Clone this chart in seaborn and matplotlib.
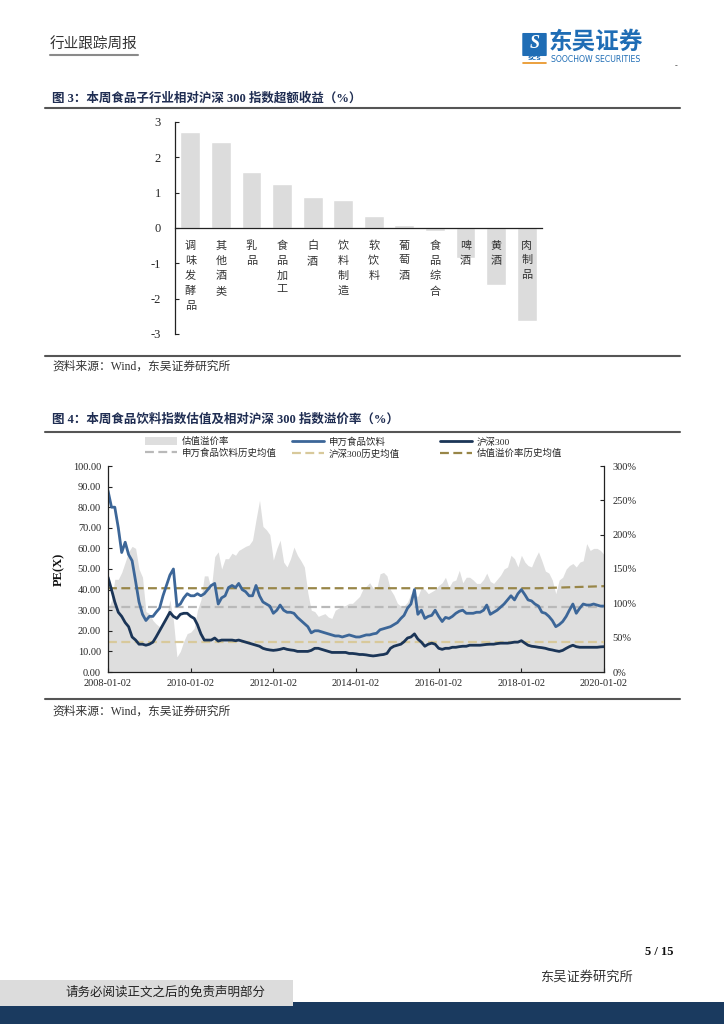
import numpy as np
import pandas as pd
import matplotlib
matplotlib.use('Agg')
import matplotlib.pyplot as plt
import matplotlib.dates as mdates
from matplotlib.lines import Line2D
from matplotlib.patches import Rectangle, FancyBboxPatch
import seaborn as sns

# ---- 图3: 本周食品子行业相对沪深300指数超额收益 (%)
sub_industries = ['调味发酵品', '其他酒类', '乳品', '食品加工', '白酒', '饮料制造',
                  '软饮料', '葡萄酒', '食品综合', '啤酒', '黄酒', '肉制品']
excess_return = [2.73, 2.44, 1.58, 1.24, 0.88, 0.79, 0.35, 0.08, -0.09, -0.84, -1.60, -2.63]
bar_yticks = [-3, -2, -1, 0, 1, 2, 3]

# ---- 图4: 估值及溢价率, monthly 2008-01-02 .. 2020-01-02
month_dates = pd.date_range('2008-01-01', periods=145, freq='MS') + pd.Timedelta(days=1)
food_pe = [
    88, 80, 80, 70, 58, 63, 57, 54, 44, 34, 28, 25,               # 2008
    27, 27, 29, 31, 37, 42, 47, 50, 32, 33, 36, 38,               # 2009
    37, 37, 38, 37, 38, 40, 42, 43, 33, 36, 37, 41,               # 2010
    42, 41, 43, 40, 39, 37, 37, 42, 37, 34, 33, 32,               # 2011
    28.5, 30, 32.5, 30, 29, 29, 28.5, 26.5, 25, 23.6, 22, 19,     # 2012
    20, 20, 19.5, 19, 18.5, 18, 17.5, 17.5, 17, 17.5, 18, 17.5,   # 2013
    17, 17, 17.5, 18, 18, 18.5, 18.8, 20.5, 21, 21.5, 22, 23,     # 2014
    24, 26, 27.5, 31, 33, 40, 28, 30, 26, 27, 27.5, 30,           # 2015
    27, 24.5, 26.5, 26, 27, 28.5, 29.5, 30, 28.5, 28.5, 28.5, 29, # 2016
    29, 30, 32.5, 28, 29, 30, 31.5, 33, 35, 37, 35, 38,           # 2017
    40, 37.5, 35, 34.5, 33, 32, 29, 28.5, 27, 25, 22, 23,         # 2018
    24.5, 27, 30, 33, 28.5, 31, 33, 32.5, 32.5, 33, 32.5, 32,     # 2019
    32,                                                           # 2020
]
hs300_pe = [
    46, 40, 34, 29, 27, 24, 22, 17, 15.5, 13.5, 13.5, 13,
    13.5, 14.5, 17, 20, 23, 26, 29, 27, 26, 28, 28.5, 28.5,
    27, 26, 23, 18.5, 15.5, 15.5, 15.5, 16.5, 15, 15.5, 15.5, 15.5,
    15.5, 15.2, 15.5, 15, 14.5, 14, 13.5, 13, 12.5, 11.5, 11, 10.7,
    10.5, 10.7, 11, 11.5, 11, 10.7, 10.5, 10, 10, 10, 10, 10.5,
    11.5, 11.5, 11, 10.5, 10, 9.5, 9.5, 9.5, 9.5, 9.5, 9, 9,
    8.8, 8.5, 8.5, 8.3, 8, 7.8, 8, 8.3, 8.5, 9, 11.5, 12.5,
    13, 13.5, 14.7, 16.5, 17, 18.5, 16, 14.5, 12.5, 13.5, 14, 13.5,
    11.5, 11, 11.5, 11.5, 12, 12, 12.3, 12.5, 12.5, 13, 13, 13,
    13, 13.2, 13.4, 13.5, 13.5, 13.8, 14, 14, 14, 14.2, 14.5, 14.5,
    15.2, 14, 13, 12.5, 12.3, 12, 11.8, 11.5, 11, 10.7, 10.3, 10,
    10.5, 11.5, 12.3, 13, 12.3, 12, 12, 12, 12, 12, 12, 12.2,
    12.3,
]
premium = [
    90, 105, 135, 135, 145, 160, 175, 183, 180, 150, 138, 88,
    85, 75, 70, 66, 70, 80, 105, 75, 22, 30, 45, 56,
    58, 64, 90, 105, 140, 140, 120, 168, 175, 150, 165, 165,
    173, 170, 177, 180, 183, 185, 192, 222, 250, 212, 207, 200,
    163, 180, 192, 160, 153, 165, 182, 170, 162, 153, 115, 90,
    88, 81, 83, 85, 80, 78, 90, 93, 96, 97, 100, 100,
    105, 110, 120, 125, 130, 122, 120, 143, 145, 140, 120, 112,
    100, 96, 96, 102, 114, 112, 110, 123, 120, 114, 117, 120,
    126, 130, 138, 123, 132, 134, 148, 130, 138, 138, 134, 129,
    129, 135, 144, 132, 129, 135, 141, 150, 153, 170, 165, 153,
    170, 160, 155, 153, 165, 175, 162, 147, 144, 134, 114, 134,
    138, 150, 155, 158, 153, 160, 162, 187, 177, 180, 180, 177,
    171,
]
mean_dates = ['2008-01-02', '2018-06-02', '2020-01-02']
food_pe_mean = [31.5, 31.5, 31.5]
hs300_pe_mean = [14.4, 14.4, 14.4]
premium_mean = [122, 122, 125]
date_ticks = ['2008-01-02', '2010-01-02', '2012-01-02', '2014-01-02',
              '2016-01-02', '2018-01-02', '2020-01-02']
pe_ticks = list(range(0, 101, 10))
pct_ticks = list(range(0, 301, 50))

# colours
BAR_GREY = '#DCDCDC'
AREA_GREY = '#DEDEDE'
FOOD_BLUE = '#3C6698'
HS_NAVY = '#1B3557'
MEAN_GREY = '#B9B9B9'
MEAN_KHAKI = '#D8C99B'
MEAN_OLIVE = '#988648'
TITLE_NAVY = '#1F2D52'
TEXT = '#333333'

sns.set_theme(style='white')
plt.rcParams['font.family'] = ['Liberation Serif', 'Noto Sans CJK SC']
plt.rcParams['axes.unicode_minus'] = False

W, H = 724, 1024
fig = plt.figure(figsize=(W / 100, H / 100), dpi=100)


def fx(x):
    return x / W


def fy(y):
    return 1 - y / H


def axes_box(left, top, right, bottom):
    return [fx(left), fy(bottom), (right - left) / W, (bottom - top) / H]


def hline(y, x0=45, x1=680, color='#555555', lw=1.5):
    fig.add_artist(Line2D([fx(x0), fx(x1)], [fy(y), fy(y)], color=color, lw=lw))


# %% page header
fig.text(fx(50), fy(45), '行业跟踪周报', fontsize=10.5, color=TEXT, va='center')
hline(55, 50, 138, color='#8A8A8A', lw=1.5)
fig.add_artist(FancyBboxPatch((fx(523), fy(55)), (546 - 523) / W, 21 / H,
                              boxstyle='round,pad=0.001', fc='#1F6DB5', ec='none'))
fig.text(fx(534.5), fy(44), 'S', fontsize=13, color='white', fontweight='bold',
         fontstyle='italic', ha='center', va='center')
fig.text(fx(534.5), fy(59), 'SCS', fontsize=4.5, color='#1F6DB5', fontweight='bold',
         ha='center', va='center', family=['DejaVu Sans'])
hline(63, 523, 546, color='#E8901C', lw=1.2)
fig.text(fx(549), fy(43), '东吴证券', fontsize=17, color='#1F6DB5', fontweight='bold', va='center')
fig.text(fx(551), fy(59), 'SOOCHOW SECURITIES', fontsize=5.6, color='#1F6DB5', va='center',
         family=['DejaVu Sans'])
fig.text(fx(675), fy(66), '-', fontsize=6, color=TEXT, va='center')

# %% 图3 bar chart
fig.text(fx(52), fy(98), '图 3：本周食品子行业相对沪深 300 指数超额收益（%）',
         fontsize=9, fontweight='bold', color=TITLE_NAVY, va='center')
hline(108)

ax1 = fig.add_axes(axes_box(175, 122, 542, 334))
sns.barplot(x=sub_industries, y=excess_return, order=sub_industries, color=BAR_GREY,
            saturation=1, width=0.65, ax=ax1)
ax1.set_axisbelow(False)
ax1.set_xlim(-0.5, len(sub_industries) - 0.5)
ax1.set_ylim(-3, 3)
ax1.spines['bottom'].set_position(('data', 0))
for side in ['top', 'right']:
    ax1.spines[side].set_visible(False)
for side in ['left', 'bottom']:
    ax1.spines[side].set_color('#222222')
    ax1.spines[side].set_linewidth(0.9)
ax1.set_xticks(range(len(sub_industries)))
ax1.set_xticklabels(['\n'.join(name) for name in sub_industries], fontsize=8,
                    linespacing=1.6, va='top', color=TEXT)
ax1.set_xticks(np.arange(-0.5, len(sub_industries)), minor=True)
ax1.tick_params(axis='x', which='major', length=0, pad=9)
ax1.tick_params(axis='x', which='minor', direction='in', length=3, width=0.8, color='#222222')
ax1.set_yticks(bar_yticks)
ax1.set_yticklabels([str(v) for v in bar_yticks])
ax1.tick_params(axis='y', direction='in', length=3, width=0.8, pad=10, labelsize=9,
                left=True, color='#222222')
ax1.set_xlabel('')
ax1.set_ylabel('')

hline(356)
fig.text(fx(52), fy(367), '资料来源：Wind，东吴证券研究所', fontsize=8.5, color=TEXT, va='center')

# %% 图4 valuation chart
fig.text(fx(52), fy(420), '图 4：本周食品饮料指数估值及相对沪深 300 指数溢价率（%）',
         fontsize=9, fontweight='bold', color=TITLE_NAVY, va='center')
hline(432)

ax = fig.add_axes(axes_box(108, 466, 604, 672))
ax2 = ax.twinx()
mean_x = pd.to_datetime(mean_dates)

ax2.fill_between(month_dates, 0, premium, color=AREA_GREY, lw=0, label='估值溢价率')
sns.lineplot(x=mean_x, y=premium_mean, ax=ax2, color=MEAN_OLIVE, lw=1.6,
             linestyle=(0, (4, 2)), label='估值溢价率历史均值')

sns.lineplot(x=mean_x, y=food_pe_mean, ax=ax, color=MEAN_GREY, lw=1.6,
             linestyle=(0, (4, 2)), label='申万食品饮料历史均值')
sns.lineplot(x=mean_x, y=hs300_pe_mean, ax=ax, color=MEAN_KHAKI, lw=1.6,
             linestyle=(0, (4, 2)), label='沪深300历史均值')
sns.lineplot(x=month_dates, y=food_pe, ax=ax, color=FOOD_BLUE, lw=2.0, label='申万食品饮料')
sns.lineplot(x=month_dates, y=hs300_pe, ax=ax, color=HS_NAVY, lw=2.0, label='沪深300')

for a in (ax, ax2):
    if a.get_legend() is not None:
        a.get_legend().remove()

ax.set_zorder(ax2.get_zorder() + 1)
ax.patch.set_visible(False)

ax.set_xlim(pd.Timestamp(date_ticks[0]), pd.Timestamp(date_ticks[-1]))
ax.set_xticks(mdates.date2num(pd.to_datetime(date_ticks)))
ax.xaxis.set_major_formatter(mdates.DateFormatter('%Y-%m-%d'))
ax.set_ylim(0, 100)
ax.set_yticks(pe_ticks)
ax.set_yticklabels([f'{v:.2f}' for v in pe_ticks])
ax2.set_ylim(0, 300)
ax2.set_yticks(pct_ticks)
ax2.set_yticklabels([f'{v}%' for v in pct_ticks])

ax.tick_params(axis='both', direction='in', length=3, width=0.8, labelsize=7.5, pad=5,
               left=True, bottom=True, color='#222222')
ax2.tick_params(axis='y', direction='in', length=3, width=0.8, labelsize=7.5, pad=6,
                right=True, color='#222222')
for side in ['top', 'right']:
    ax.spines[side].set_visible(False)
for side in ['top', 'left', 'bottom']:
    ax2.spines[side].set_visible(False)
for sp in (ax.spines['left'], ax.spines['bottom'], ax2.spines['right']):
    sp.set_color('#222222')
    sp.set_linewidth(0.9)
ax.set_xlabel('')
ax.set_ylabel('PE(X)', fontsize=9, fontweight='bold', color='#111111')
ax.yaxis.set_label_coords((65 - 108) / 496, 0.5)
ax2.set_ylabel('')

# legend: three columns of two entries
handles = {}
for a in (ax, ax2):
    for h, lab in zip(*a.get_legend_handles_labels()):
        handles[lab] = h
legend_cols = [(145, ['估值溢价率', '申万食品饮料历史均值']),
               (292, ['申万食品饮料', '沪深300历史均值']),
               (440, ['沪深300', '估值溢价率历史均值'])]
for x0, labs in legend_cols:
    fig.legend([handles[l] for l in labs], labs, loc='upper left',
               bbox_to_anchor=(fx(x0), fy(437)), frameon=False, fontsize=6.8,
               handlelength=3.4, handleheight=0.9, handletextpad=0.5,
               labelspacing=0.25, borderpad=0, borderaxespad=0)

hline(699)
fig.text(fx(52), fy(712), '资料来源：Wind，东吴证券研究所', fontsize=8.5, color=TEXT, va='center')

# %% page footer
fig.text(fx(645), fy(952), '5 / 15', fontsize=9, fontweight='bold', color='#111111', va='center')
fig.text(fx(540), fy(977), '东吴证券研究所', fontsize=9.5, color=TEXT, va='center')
fig.add_artist(Rectangle((0, 0), 1, (1024 - 1002) / H, fc='#1A3A5F', ec='none'))
fig.add_artist(Rectangle((0, fy(1006)), 293 / W, 26 / H, fc='#DCDCDC', ec='none', zorder=3))
fig.text(fx(165), fy(993), '请务必阅读正文之后的免责声明部分', fontsize=9, color='#222222',
         ha='center', va='center', zorder=4)

fig.savefig('out.png', dpi=100)
